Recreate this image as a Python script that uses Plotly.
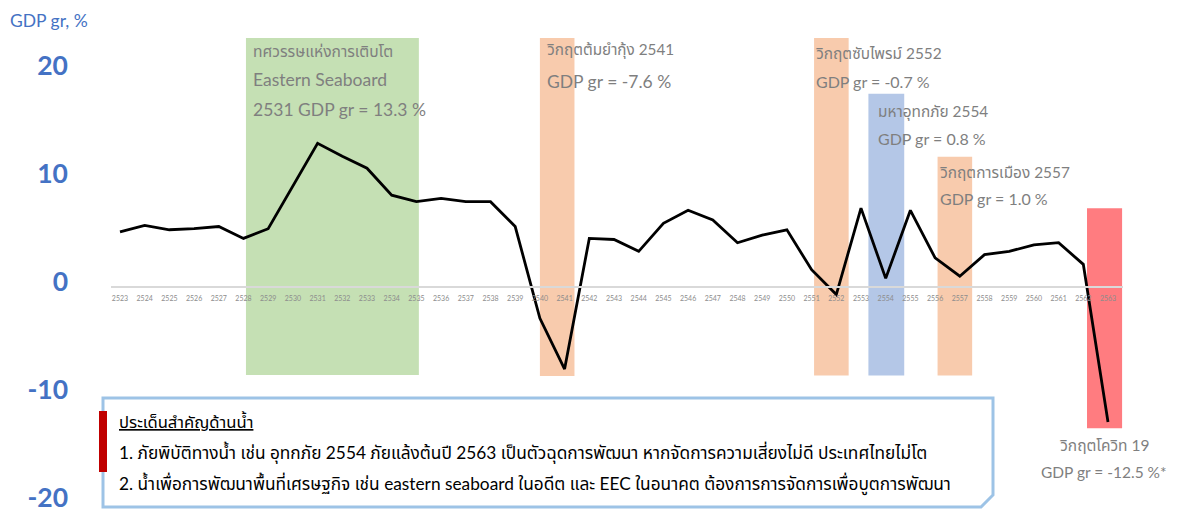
import plotly.graph_objects as go

# Thai GDP growth by Buddhist-era year
years = list(range(2523, 2564))
gdp_growth = [5.1, 5.7, 5.3, 5.4, 5.6, 4.5, 5.4, 9.3, 13.3, 12.1, 11.0, 8.5, 7.9, 8.2,
              7.9, 7.9, 5.6, -2.9, -7.6, 4.5, 4.4, 3.3, 5.9, 7.1, 6.2, 4.1, 4.8, 5.3,
              1.6, -0.7, 7.3, 0.8, 7.1, 2.7, 1.0, 3.0, 3.3, 3.9, 4.1, 2.1, -12.5]
y_ticks = [-20, -10, 0, 10, 20]

# shaded periods
period_start = [2528.1, 2540.0, 2551.1, 2553.3, 2556.1, 2562.15]
period_end = [2535.1, 2541.4, 2552.5, 2554.75, 2557.5, 2563.57]
period_top = [23.06, 23.06, 23.06, 17.9, 12.06, 7.3]
period_bottom = [-8.15, -8.24, -8.2, -8.2, -8.2, -13.08]
period_colors = ["#C5E0B4", "#F8CBAD", "#F8CBAD", "#B4C7E7", "#F8CBAD", "#FF7C80"]

# period captions: (text, left px, centre px, size, anchor)
captions = [
    ("ทศวรรษแห่งการเติบโต", 251, 51, 15.6, "left"),
    ("Eastern Seaboard", 251, 79, 17.5, "left"),
    ("2531 GDP gr = 13.3 %", 251, 109, 17.5, "left"),
    ("วิกฤตต้มยำกุ้ง 2541", 545, 50, 15.3, "left"),
    ("GDP gr = -7.6 %", 545, 81, 17.5, "left"),
    ("วิกฤตซับไพรม์ 2552", 814, 53, 15.4, "left"),
    ("GDP gr = -0.7 %", 814, 81, 16, "left"),
    ("มหาอุทกภัย 2554", 876, 111, 15.4, "left"),
    ("GDP gr = 0.8 %", 876, 138, 16, "left"),
    ("วิกฤตการเมือง 2557", 938, 172, 15.4, "left"),
    ("GDP gr = 1.0 %", 938, 198, 16, "left"),
    ("วิกฤตโควิท 19", 1104, 445, 15.5, "center"),
    ("GDP gr = -12.5 %*", 1104, 472, 15.5, "center"),
]

box_title = "ประเด็นสำคัญด้านน้ำ"
box_lines = [
    "1. ภัยพิบัติทางน้ำ เช่น อุทกภัย 2554 ภัยแล้งต้นปี 2563 เป็นตัวฉุดการพัฒนา หากจัดการความเสี่ยงไม่ดี ประเทศไทยไม่โต",
    "2. น้ำเพื่อการพัฒนาพื้นที่เศรษฐกิจ เช่น eastern seaboard ในอดีต และ EEC ในอนาคต ต้องการการจัดการเพื่อบูตการพัฒนา",
]

FIG_W, FIG_H = 1177, 512
ML, MR, MT, MB = 111, 54, 28, 0
PW, PH = FIG_W - ML - MR, FIG_H - MT - MB
Y_RANGE = [-20.83, 23.98]
X_RANGE = [2522.636, 2563.607]

FONT = "Lato, 'Noto Sans Thai', Tahoma, sans-serif"
GREY = "#7F7F7F"
BLUE = "#4472C4"


def px(x):
    return (x - ML) / PW


def py(y):
    return (MT + PH - y) / PH


fig = go.Figure()

fig.add_trace(go.Scatter(
    x=years, y=gdp_growth, mode="lines",
    line=dict(color="black", width=2.8),
    hoverinfo="skip", showlegend=False,
))

for x0, x1, y1, y0, c in zip(period_start, period_end, period_top, period_bottom, period_colors):
    fig.add_shape(type="rect", xref="x", yref="y", x0=x0, x1=x1, y0=y0, y1=y1,
                  fillcolor=c, line_width=0, layer="below")

# note box with snipped corner
bx0, bx1, by0, by1 = 103, 993, 398, 507
path = (f"M {px(bx0)} {py(by0)} L {px(bx1)} {py(by0)} L {px(bx1)} {py(by1 - 12)} "
        f"L {px(bx1 - 12)} {py(by1)} L {px(bx0)} {py(by1)} Z")
fig.add_shape(type="path", xref="paper", yref="paper", path=path,
              fillcolor="white", line=dict(color="#9DC3E6", width=3), layer="above")
fig.add_shape(type="rect", xref="paper", yref="paper",
              x0=px(99), x1=px(107), y0=py(472), y1=py(411),
              fillcolor="#C00000", line_width=0, layer="above")

annotations = []
for text, x, y, size, anchor in captions:
    annotations.append(dict(
        text=text, xref="paper", yref="paper", x=px(x), y=py(y),
        xanchor=anchor, yanchor="middle", showarrow=False,
        font=dict(family=FONT, size=size, color=GREY),
    ))

annotations.append(dict(
    text=f"<u>{box_title}</u>", xref="paper", yref="paper", x=px(117), y=py(421),
    xanchor="left", yanchor="middle", showarrow=False,
    font=dict(family=FONT, size=16.6, color="black"),
))
for i, line in enumerate(box_lines):
    annotations.append(dict(
        text=line, xref="paper", yref="paper", x=px(117), y=py(452 + 32 * i),
        xanchor="left", yanchor="middle", showarrow=False,
        font=dict(family=FONT, size=17.3, color="black"),
    ))

annotations.append(dict(
    text="GDP gr, %", xref="paper", yref="paper", x=px(8), y=py(20),
    xanchor="left", yanchor="middle", showarrow=False,
    font=dict(family=FONT, size=17.5, color=BLUE),
))

zero_pos = (0 - Y_RANGE[0]) / (Y_RANGE[1] - Y_RANGE[0])

fig.update_layout(
    width=FIG_W, height=FIG_H,
    margin=dict(l=ML, r=MR, t=MT, b=MB, autoexpand=False),
    paper_bgcolor="white", plot_bgcolor="white",
    font=dict(family=FONT),
    annotations=annotations,
    xaxis=dict(
        range=X_RANGE, tickvals=years, ticktext=[str(y) for y in years],
        tickfont=dict(size=7, color="#8C8C8C"),
        ticks="outside", ticklen=5, tickcolor="rgba(0,0,0,0)",
        showgrid=False, zeroline=False,
        showline=True, linecolor="#D9D9D9", linewidth=2,
        anchor="free", position=zero_pos,
    ),
    yaxis=dict(
        range=Y_RANGE, tickvals=y_ticks, ticktext=[str(v) for v in y_ticks],
        tickfont=dict(size=26.5, color=BLUE, family=FONT, weight="bold"),
        showgrid=False, zeroline=False, showline=False, ticks="",
        ticklabelstandoff=42, ticklabelshift=-5, ticklabeloverflow="allow",
    ),
)

fig.write_html("out.html")
